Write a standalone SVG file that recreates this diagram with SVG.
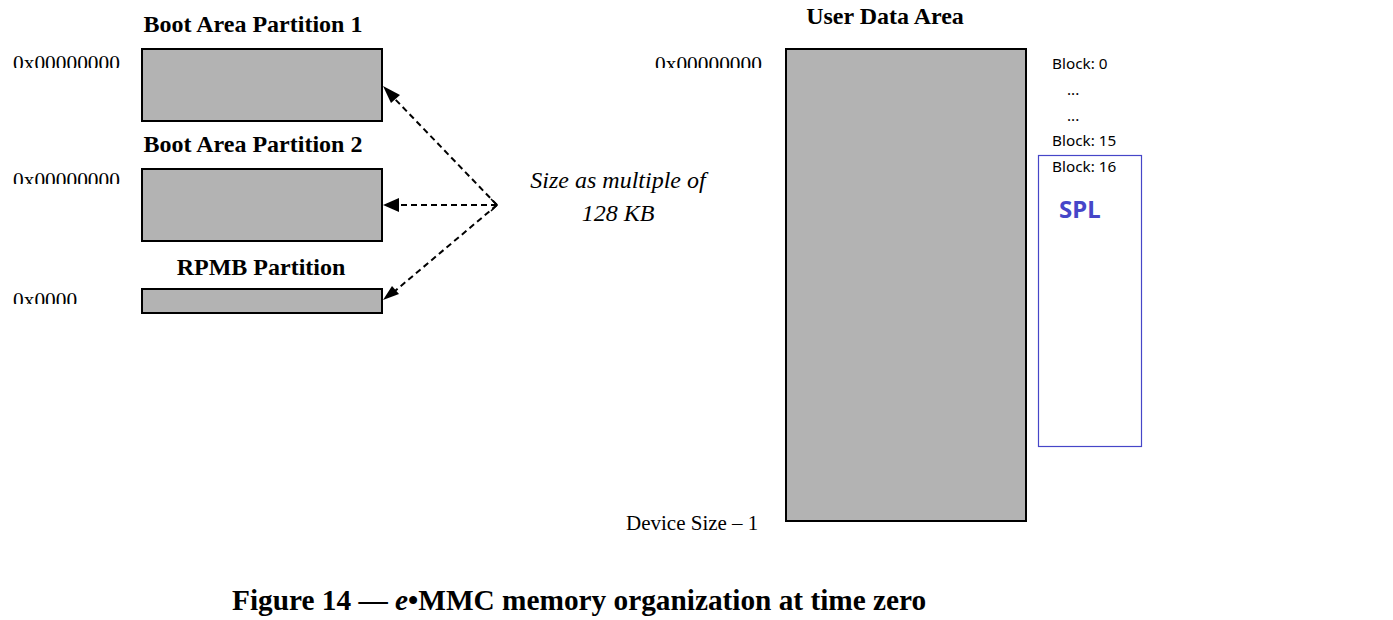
<svg xmlns="http://www.w3.org/2000/svg" width="1393" height="620" viewBox="0 0 1393 620">
<style>
.part{fill:#b3b3b3;stroke:#000;stroke-width:2}
.title{font-family:"Liberation Serif",serif;font-weight:bold;font-size:24px;fill:#000;text-anchor:middle}
.hex{font-family:"Liberation Serif",serif;font-size:21.4px;fill:#000}
.note{font-family:"Liberation Serif",serif;font-style:italic;font-size:24px;fill:#000;text-anchor:middle}
.blk{font-family:"Noto Sans","Noto Sans CJK SC",sans-serif;font-size:15.3px;fill:#000}
.conn{fill:none;stroke:#000;stroke-width:2;stroke-dasharray:6 4}
</style>
<defs>
<clipPath id="c1"><rect x="0" y="40" width="140" height="28"/></clipPath>
<clipPath id="c2"><rect x="0" y="160" width="140" height="24"/></clipPath>
<clipPath id="c3"><rect x="0" y="280" width="140" height="24"/></clipPath>
<clipPath id="c4"><rect x="600" y="40" width="180" height="28"/></clipPath>
</defs>
<rect width="1393" height="620" fill="#fff"/>

<g id="boot1">
<text class="title" x="253" y="32">Boot Area Partition 1</text>
<rect class="part" x="142" y="49" width="240" height="72"/>
<text class="hex" x="13" y="69.5" clip-path="url(#c1)">0x00000000</text>
</g>
<g id="boot2">
<text class="title" x="253" y="152">Boot Area Partition 2</text>
<rect class="part" x="142" y="169" width="240" height="72"/>
<text class="hex" x="13" y="186.5" clip-path="url(#c2)">0x00000000</text>
</g>
<g id="rpmb">
<text class="title" x="261" y="275">RPMB Partition</text>
<rect class="part" x="142" y="289" width="240" height="24"/>
<text class="hex" x="13" y="306.5" clip-path="url(#c3)">0x0000</text>
</g>
<g id="userdata">
<text class="title" x="885" y="24">User Data Area</text>
<rect class="part" x="786" y="49" width="240" height="472"/>
<text class="hex" x="655" y="70.5" clip-path="url(#c4)">0x00000000</text>
<text x="626" y="530" style="font-family:'Liberation Serif',serif;font-size:21px;fill:#000">Device Size – 1</text>
</g>
<g id="note">
<text class="note" x="618" y="188">Size as multiple of</text>
<text class="note" x="618" y="221">128 KB</text>
</g>
<g id="blocks">
<text class="blk" x="1052" y="69">Block: 0</text>
<text class="blk" x="1067" y="95">...</text>
<text class="blk" x="1067" y="121">...</text>
<text class="blk" x="1052" y="146">Block: 15</text>
</g>
<g id="spl">
<rect x="1038.5" y="155.5" width="103" height="291" fill="none" stroke="#4646c8" stroke-width="1.2"/>
<text class="blk" x="1052" y="172">Block: 16</text>
<text x="1059" y="218" style="font-family:'Noto Sans','Noto Sans CJK SC',sans-serif;font-weight:bold;font-size:24px;fill:#4646c8">SPL</text>
</g>
<g id="connectors">
<line class="conn" x1="497" y1="205" x2="393" y2="97"/>
<path d="M383,86 L400,95 L391,103 z" fill="#000"/>
<line class="conn" x1="497" y1="205" x2="398" y2="205"/>
<path d="M383,205 L399,198 L399,212 z" fill="#000"/>
<line class="conn" x1="497" y1="205" x2="395" y2="291"/>
<path d="M383,300 L392,286 L399,294 z" fill="#000"/>
<path d="M491,199 L497,205 L491,211" fill="none" stroke="#000" stroke-width="1.5"/>
</g>
<g id="caption">
<text x="232" y="610" style="font-family:'Liberation Serif',serif;font-weight:bold;font-size:29.3px;fill:#000">Figure 14 — <tspan font-style="italic">e</tspan>•MMC memory organization at time zero</text>
</g>
</svg>
